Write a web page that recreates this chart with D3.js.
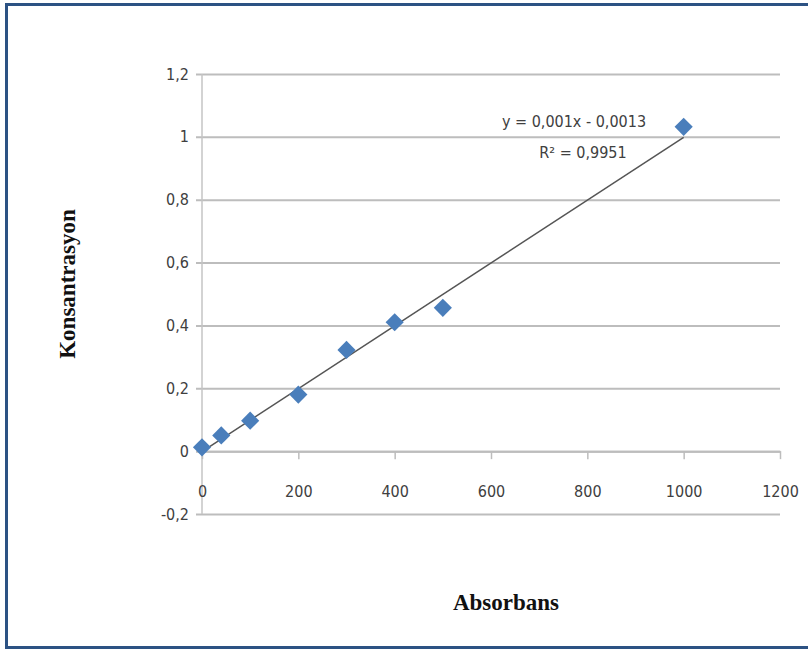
<!DOCTYPE html>
<html>
<head>
<meta charset="utf-8">
<script src="https://cdn.jsdelivr.net/npm/d3@7"></script>
<style>
    html, body { margin: 0; padding: 0; background: #fff; }
    svg { display: block; }
</style>
</head>
<body>
<svg id="chart" width="808" height="652"></svg>
<script>
// absorbans (x) vs konsantrasyon (y)
const absorbans = [0, 40, 100, 200, 300, 400, 500, 1000];
const konsantrasyon = [0.012, 0.05, 0.097, 0.18, 0.322, 0.41, 0.456, 1.032];
const xTicks = [0, 200, 400, 600, 800, 1000, 1200];
const yTicks = [-0.2, 0, 0.2, 0.4, 0.6, 0.8, 1, 1.2];
const slope = 0.001, intercept = -0.0013;
const equationLines = ["y = 0,001x - 0,0013", "R² = 0,9951"];

const svg = d3.select("#chart");
const width = +svg.attr("width");
const height = +svg.attr("height");

// outer frame
svg.append("rect")
    .attr("x", 6.5).attr("y", 4.5)
    .attr("width", width + 10).attr("height", 643)
    .attr("fill", "none")
    .attr("stroke", "#2c5283")
    .attr("stroke-width", 3);

const margin = { top: 74, right: 28, bottom: 138, left: 202 };

const x = d3.scaleLinear()
    .domain([0, 1200])
    .range([margin.left, width - margin.right]);

const y = d3.scaleLinear()
    .domain([-0.2, 1.2])
    .range([height - margin.bottom, margin.top]);

// comma decimals, plain hyphen minus
const fmt = d => d3.format(".1f")(d).replace("−", "-").replace(".", ",").replace(/,0$/, "");
const tickFont = "'DejaVu Sans Condensed', 'Liberation Sans Narrow', sans-serif";

// horizontal grid + y labels
const yAxis = svg.append("g")
    .attr("transform", `translate(${margin.left},0)`)
    .call(d3.axisLeft(y).tickValues(yTicks).tickSize(-(x(1200) - margin.left)).tickSizeOuter(0).tickPadding(13).tickFormat(fmt));
yAxis.select(".domain").remove();
yAxis.selectAll(".tick line")
    .attr("x1", -6)
    .attr("stroke", "#bdbdbd")
    .attr("stroke-width", 2);
yAxis.selectAll(".tick text")
    .attr("font-family", tickFont)
    .attr("font-size", 16)
    .attr("fill", "#404040");

// vertical axis line
svg.append("line")
    .attr("x1", x(0)).attr("x2", x(0))
    .attr("y1", y(1.2)).attr("y2", y(-0.2))
    .attr("stroke", "#c4c4c4")
    .attr("stroke-width", 1.5);

// x axis at y = 0
const xAxis = svg.append("g")
    .attr("transform", `translate(0,${y(0)})`)
    .call(d3.axisBottom(x).tickValues(xTicks).tickSize(8).tickSizeOuter(0).tickPadding(26).tickFormat(d3.format("d")));
xAxis.select(".domain")
    .attr("stroke", "#bdbdbd")
    .attr("stroke-width", 2);
xAxis.selectAll(".tick line")
    .attr("stroke", "#bdbdbd")
    .attr("stroke-width", 1.5);
xAxis.selectAll(".tick text")
    .attr("font-family", tickFont)
    .attr("font-size", 16)
    .attr("fill", "#404040");

// trendline
svg.append("line")
    .attr("x1", x(0)).attr("y1", y(intercept))
    .attr("x2", x(1000)).attr("y2", y(slope * 1000 + intercept))
    .attr("stroke", "#555")
    .attr("stroke-width", 1.5);

// diamond markers
const diamond = d3.symbol().type(d3.symbolSquare).size(165);
svg.selectAll(".pt")
    .data(absorbans.map((a, i) => [a, konsantrasyon[i]]))
    .join("path")
    .attr("class", "pt")
    .attr("d", diamond)
    .attr("transform", d => `translate(${x(d[0])},${y(d[1])}) rotate(45)`)
    .attr("fill", "#4a7ebb");

// equation label
svg.selectAll(".eq")
    .data(equationLines)
    .join("text")
    .attr("class", "eq")
    .attr("x", (d, i) => i === 0 ? 574 : 583)
    .attr("y", (d, i) => 127 + i * 31)
    .attr("text-anchor", "middle")
    .attr("font-family", tickFont)
    .attr("font-size", 16)
    .attr("fill", "#404040")
    .text(d => d);

// axis titles
svg.append("text")
    .attr("x", 506).attr("y", 610)
    .attr("text-anchor", "middle")
    .attr("font-family", "'Liberation Serif', 'Times New Roman', serif")
    .attr("font-weight", "bold")
    .attr("font-size", 23)
    .attr("fill", "#111")
    .text("Absorbans");

svg.append("text")
    .attr("transform", "translate(75,284) rotate(-90)")
    .attr("text-anchor", "middle")
    .attr("font-family", "'Liberation Serif', 'Times New Roman', serif")
    .attr("font-weight", "bold")
    .attr("font-size", 23)
    .attr("fill", "#111")
    .text("Konsantrasyon");
</script>
</body>
</html>
